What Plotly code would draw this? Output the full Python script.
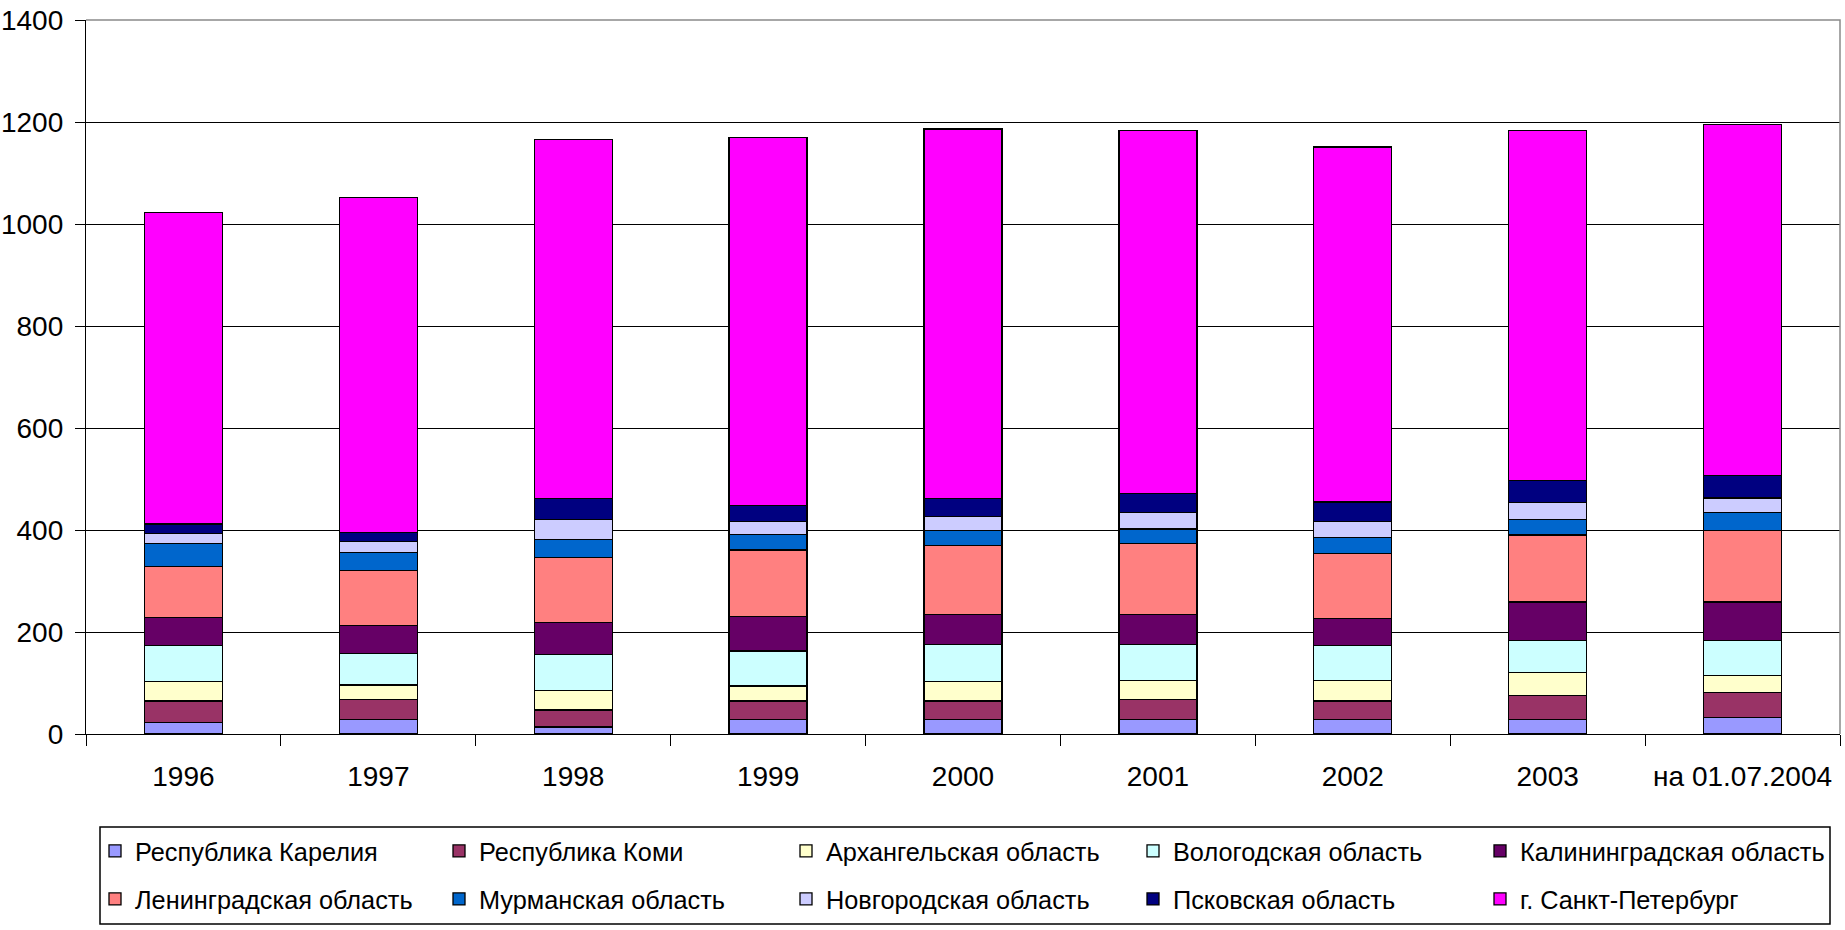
import plotly.graph_objects as go

categories = ["1996", "1997", "1998", "1999", "2000", "2001", "2002", "2003", "на 01.07.2004"]

karelia = [23, 29, 14, 29, 29, 29, 29, 29, 32]
komi = [42, 38, 33, 36, 36, 38, 36, 47, 50]
arkhangelsk = [38, 29, 38, 29, 38, 38, 40, 44, 33]
vologda = [70, 62, 71, 69, 72, 70, 68, 64, 69]
kaliningrad = [56, 55, 62, 67, 60, 60, 54, 75, 75]
leningrad = [99, 107, 128, 131, 134, 138, 127, 131, 140]
murmansk = [45, 36, 36, 30, 30, 29, 31, 30, 36]
novgorod = [20, 22, 38, 25, 28, 32, 31, 34, 28]
pskov = [19, 17, 42, 32, 35, 37, 39, 43, 44]
spb = [611, 657, 704, 721, 724, 712, 696, 686, 688]

series_names = [
    "Республика Карелия", "Республика Коми", "Архангельская область",
    "Вологодская область", "Калининградская область", "Ленинградская область",
    "Мурманская область", "Новгородская область", "Псковская область",
    "г. Санкт-Петербург",
]
series_values = [karelia, komi, arkhangelsk, vologda, kaliningrad,
                 leningrad, murmansk, novgorod, pskov, spb]
series_colors = ["#9999FF", "#993366", "#FFFFCC", "#CCFFFF", "#660066",
                 "#FF8080", "#0066CC", "#CCCCFF", "#000080", "#FF00FF"]

FONT = "Liberation Sans, Arial, sans-serif"

W, H = 1845, 930
ml, mr, mt, mb = 86, 5, 20, 196
pw = W - ml - mr
ph = H - mt - mb


def px_x(x):
    return (x - ml) / pw


def px_y(y):
    return (H - mb - y) / ph


# legend layout: 5 columns x 2 rows (pixel positions of each legend entry)
legend_cols = [95, 439, 786, 1133, 1480]
legend_rows = [851, 899]

fig = go.Figure()
legends = {}
for i, (name, vals, col) in enumerate(zip(series_names, series_values, series_colors)):
    key = "legend" if i == 0 else f"legend{i + 1}"
    fig.add_trace(go.Bar(
        x=categories, y=vals, name=name,
        marker=dict(color=col, line=dict(color="#000000", width=1.3)),
        legend=key,
    ))
    legends[key] = dict(
        orientation="h",
        font=dict(family=FONT, size=25.3, color="#000000"),
        bgcolor="rgba(0,0,0,0)", borderwidth=0,
        x=px_x(legend_cols[i % 5]), y=px_y(legend_rows[i // 5]),
        xanchor="left", yanchor="middle",
        itemclick=False, itemdoubleclick=False,
    )

fig.update_layout(
    width=W, height=H,
    margin=dict(l=ml, r=mr, t=mt, b=mb, autoexpand=False),
    paper_bgcolor="#FFFFFF", plot_bgcolor="#FFFFFF",
    barmode="stack", bargap=0.6,
    font=dict(family=FONT, size=28, color="#000000"),
    showlegend=True,
    xaxis=dict(
        type="category", showgrid=False,
        showline=True, linecolor="#000000", linewidth=1.3,
        ticks="outside", tickson="boundaries", ticklen=11,
        tickcolor="#000000", tickwidth=1.3,
        tickfont=dict(family=FONT, size=28, color="#000000"),
        ticklabelstandoff=17,
    ),
    yaxis=dict(
        range=[0, 1400], dtick=200, tick0=0,
        showgrid=True, gridcolor="#000000", gridwidth=1.2,
        showline=True, linecolor="#000000", linewidth=1.3,
        zeroline=False,
        ticks="outside", ticklen=10, tickcolor="#000000", tickwidth=1.3,
        tickfont=dict(family=FONT, size=28, color="#000000"),
        ticklabelstandoff=6,
    ),
    shapes=[
        dict(type="path", xref="paper", yref="paper", path="M0,1 L1,1 L1,0",
             line=dict(color="#8a8a8a", width=1.5), layer="above"),
        dict(type="rect", xref="paper", yref="paper",
             x0=px_x(100), x1=px_x(1830), y0=px_y(924), y1=px_y(827),
             line=dict(color="#000000", width=1.5), fillcolor="rgba(0,0,0,0)",
             layer="above"),
    ],
    **legends,
)

fig.write_html(
    "out.html",
    config={"displayModeBar": False},
    post_script="document.body.style.margin='0px';document.body.style.overflow='hidden';",
)
